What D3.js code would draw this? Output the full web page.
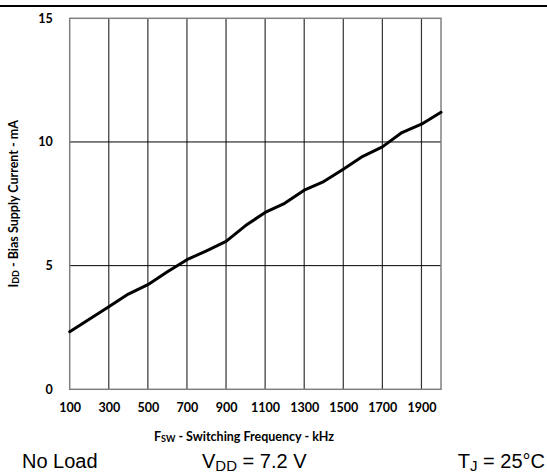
<!DOCTYPE html>
<html>
<head>
<meta charset="utf-8">
<script src="https://cdn.jsdelivr.net/npm/d3@7"></script>
<style>
  html, body { margin: 0; padding: 0; background: #fff; }
  svg { display: block; }
</style>
</head>
<body>
<svg id="chart" width="547" height="474"></svg>
<script>
// Data
const freqKHz = [100, 200, 300, 400, 500, 600, 700, 800, 900, 1000,
                 1100, 1200, 1300, 1400, 1500, 1600, 1700, 1800, 1900, 2000];
const biasCurrentMA = [2.33, 2.83, 3.34, 3.85, 4.23, 4.75, 5.24, 5.60, 5.98, 6.62,
                       7.15, 7.52, 8.05, 8.40, 8.90, 9.42, 9.80, 10.38, 10.72, 11.20];
const xTickValues = [100, 300, 500, 700, 900, 1100, 1300, 1500, 1700, 1900];
const yTickValues = [0, 5, 10, 15];

const svg = d3.select("#chart");
const W = 547, H = 474;
const plot = { left: 69.7, right: 441, top: 18.3, bottom: 389.3 };

const x = d3.scaleLinear().domain([100, 2000]).range([plot.left, plot.right]);
const y = d3.scaleLinear().domain([0, 15]).range([plot.bottom, plot.top]);

// top rule
svg.append("line")
  .attr("x1", 0).attr("x2", W).attr("y1", 6).attr("y2", 6)
  .attr("stroke", "#000").attr("stroke-width", 2);

// vertical gridlines
svg.append("g")
  .selectAll("line")
  .data(xTickValues.filter(d => d > 100))
  .join("line")
  .attr("x1", d => x(d)).attr("x2", d => x(d))
  .attr("y1", plot.top).attr("y2", plot.bottom)
  .attr("stroke", "#333").attr("stroke-width", 1.2);

// horizontal gridlines
svg.append("g")
  .selectAll("line")
  .data(yTickValues.filter(d => d > 0 && d < 15))
  .join("line")
  .attr("x1", plot.left).attr("x2", plot.right)
  .attr("y1", d => y(d)).attr("y2", d => y(d))
  .attr("stroke", "#000").attr("stroke-width", 1);

// plot border
svg.append("rect")
  .attr("x", plot.left).attr("y", plot.top)
  .attr("width", plot.right - plot.left).attr("height", plot.bottom - plot.top)
  .attr("fill", "none").attr("stroke", "#808080").attr("stroke-width", 1.5);

// axes (labels only)
const tickFont = "Lato, 'Open Sans', sans-serif";
const xAxis = svg.append("g")
  .attr("transform", `translate(0,${plot.bottom})`)
  .call(d3.axisBottom(x).tickValues(xTickValues).tickSize(0).tickPadding(14).tickFormat(d3.format("d")));
const yAxis = svg.append("g")
  .attr("transform", `translate(${plot.left},0)`)
  .call(d3.axisLeft(y).tickValues(yTickValues).tickSize(0).tickPadding(17).tickFormat(d3.format("d")));
[xAxis, yAxis].forEach(g => {
  g.select(".domain").remove();
  g.selectAll("text")
    .attr("fill", "#000")
    .style("font-family", tickFont)
    .style("font-weight", "bold")
    .style("font-size", "12.5px");
});

// data line
const line = d3.line().x((d, i) => x(freqKHz[i])).y(d => y(d));
svg.append("path")
  .datum(biasCurrentMA)
  .attr("d", line)
  .attr("fill", "none")
  .attr("stroke", "#000")
  .attr("stroke-width", 3)
  .attr("stroke-linejoin", "round")
  .attr("stroke-linecap", "round");

// x-axis title
const xt = svg.append("text")
  .attr("x", 244).attr("y", 441)
  .attr("text-anchor", "middle")
  .style("font-family", tickFont).style("font-weight", "bold").style("font-size", "12.5px");
xt.append("tspan").text("F");
xt.append("tspan").style("font-size", "9px").attr("dy", 1).text("SW");
xt.append("tspan").attr("dy", -1).text(" - Switching Frequency - kHz");

// y-axis title
const yt = svg.append("text")
  .attr("transform", `translate(17.5,${(plot.top + plot.bottom) / 2}) rotate(-90)`)
  .attr("text-anchor", "middle")
  .style("font-family", tickFont).style("font-weight", "bold").style("font-size", "12.5px");
yt.append("tspan").text("I");
yt.append("tspan").style("font-size", "9px").attr("dy", 1).text("DD");
yt.append("tspan").attr("dy", -1).text(" - Bias Supply Current - mA");

// conditions
const condFont = "'Liberation Sans', Arial, sans-serif";
svg.append("text").attr("x", 22).attr("y", 468)
  .style("font-family", condFont).style("font-size", "20px").text("No Load");
const vdd = svg.append("text").attr("x", 202).attr("y", 468)
  .style("font-family", condFont).style("font-size", "20px");
vdd.append("tspan").text("V");
vdd.append("tspan").style("font-size", "15px").attr("dy", 3).text("DD");
vdd.append("tspan").attr("dy", -3).text(" = 7.2 V");
const tj = svg.append("text").attr("x", 545).attr("y", 468).attr("text-anchor", "end")
  .style("font-family", condFont).style("font-size", "20px");
tj.append("tspan").text("T");
tj.append("tspan").style("font-size", "15px").attr("dy", 3).text("J");
tj.append("tspan").attr("dy", -3).text(" = 25°C");
</script>
</body>
</html>
